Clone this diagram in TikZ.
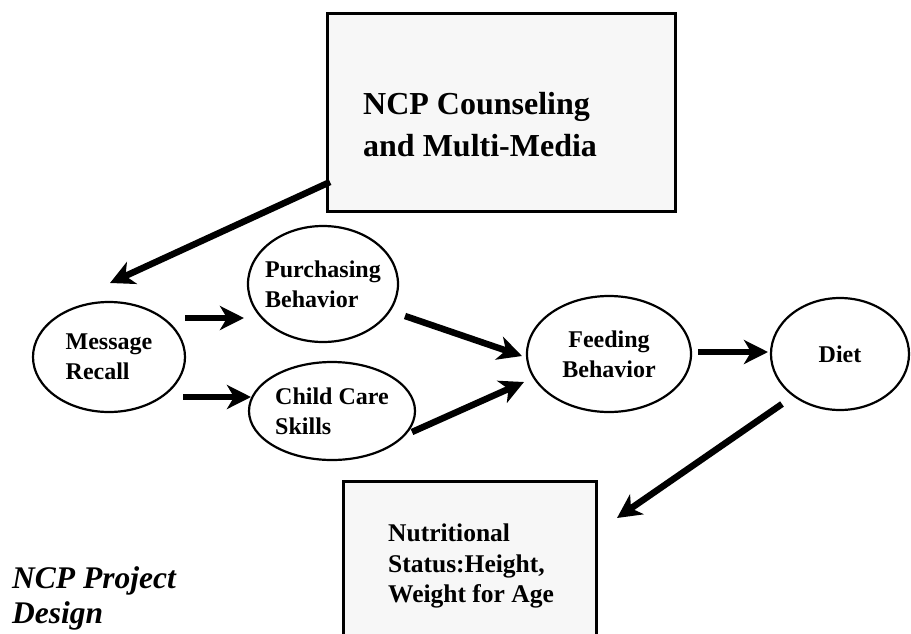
\documentclass[tikz,border=0pt]{standalone}
\usepackage{fontspec}
\setmainfont{Liberation Serif}
\usetikzlibrary{shapes.geometric,arrows.meta}

\begin{document}
\begin{tikzpicture}[x=1pt,y=-1pt,
  stage/.style={ellipse, draw, line width=2.2pt, inner sep=-25pt,
    font=\fontsize{24}{30}\selectfont\bfseries, align=left},
  panel/.style={draw, line width=3pt, fill=black!3, inner sep=0pt},
  caption/.style={inner sep=0pt, anchor=west, align=left},
  flow/.style={line width=6.5pt, -{Stealth[length=24pt,width=24pt,inset=7pt]}},
]
% page frame
\fill[white] (0,0) rectangle (911,633);
\useasboundingbox (0,0) rectangle (911,633);
\clip (0,0) rectangle (911,633);

% boxes
\node[panel, minimum width=348pt, minimum height=198pt] (ncp) at (501,112) {};
\node[caption, font=\fontsize{32}{42}\selectfont\bfseries] (ncptext) at (363,125)
  {NCP Counseling\\and Multi-Media};

\node[panel, minimum width=253pt, minimum height=200pt, anchor=north west] (status) at (342,480) {};
\node[caption, font=\fontsize{25.5}{30.5}\selectfont\bfseries] (statustext) at (388,566)
  {Nutritional\\Status:Height,\\Weight for Age};

% stages
\node[stage, minimum width=152pt, minimum height=110pt] (mr) at (109,357) {Message\\Recall};
\node[stage, minimum width=150pt, minimum height=116pt] (pb) at (323,284) {Purchasing\\Behavior};
\node[stage, minimum width=166pt, minimum height=98pt] (ccs) at (332,411) {Child Care\\Skills};
\node[stage, minimum width=164pt, minimum height=116pt, align=center] (fb) at (609,354) {Feeding\\Behavior};
\node[stage, minimum width=138pt, minimum height=112pt] (diet) at (840,354) {Diet};

% title
\node[caption, font=\fontsize{31.5}{35}\selectfont\bfseries\itshape] (title) at (12,598)
  {NCP Project\\Design};

% arrow end points
\coordinate (ncp-out) at (330,182);
\coordinate (mr-in) at (110,283);
\coordinate (mr-out1) at (185,318);
\coordinate (pb-in) at (244,318);
\coordinate (mr-out2) at (183,397);
\coordinate (ccs-in) at (251,397);
\coordinate (pb-out) at (405,316);
\coordinate (fb-in1) at (522,356);
\coordinate (ccs-out) at (412,432);
\coordinate (fb-in2) at (524,382);
\coordinate (fb-out) at (698,352);
\coordinate (diet-in) at (768,352);
\coordinate (diet-out) at (782,404);
\coordinate (status-in) at (617,518);

% arrows
\draw[flow] (ncp-out) -- (mr-in);
\draw[flow] (mr-out1) -- (pb-in);
\draw[flow] (mr-out2) -- (ccs-in);
\draw[flow] (pb-out) -- (fb-in1);
\draw[flow] (ccs-out) -- (fb-in2);
\draw[flow] (fb-out) -- (diet-in);
\draw[flow] (diet-out) -- (status-in);
\end{tikzpicture}
\end{document}
